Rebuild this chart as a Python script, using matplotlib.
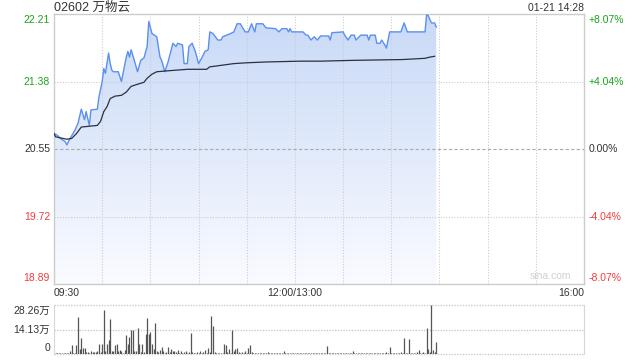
import matplotlib
matplotlib.use("Agg")
import matplotlib.pyplot as plt
from matplotlib.patches import Polygon
import numpy as np

plt.rcParams['font.family'] = ['Liberation Sans', 'Noto Sans CJK SC', 'DejaVu Sans']

# --- data ---
title = "02602 万物云"
stamp = "01-21 14:28"
prev_close = 20.55
price_ticks = [22.21, 21.38, 20.55, 19.72, 18.89]
pct_labels = ["+8.07%", "+4.04%", "0.00%", "-4.04%", "-8.07%"]
vol_ticks = [28.26, 14.13, 0]
vol_labels = ["28.26万", "14.13万", "0"]
time_labels = ["09:30", "12:00/13:00", "16:00"]

# minutes since 09:30 (lunch break skipped) and price
px_min = [0, 2, 4, 7, 8, 10, 13, 15, 17, 19, 20, 22, 23, 27, 28, 30, 31, 32, 34, 35,
          36, 37, 40, 42, 45, 46, 47, 48, 50, 52, 54, 56, 58, 59, 61, 64, 66, 67, 69, 71,
          73, 74, 76, 77, 80, 81, 83, 84, 86, 88, 90, 92, 94, 96, 97, 99, 102, 104, 105, 110,
          112, 114, 116, 119, 121, 123, 125, 126, 130, 132, 138, 140, 142, 145, 146, 147, 148, 155, 157, 158,
          160, 162, 164, 166, 171, 172, 173, 180, 181, 183, 185, 187, 188, 191, 195, 196, 197, 200, 201, 203,
          204, 206, 207, 209, 216, 218, 220, 231, 232, 233, 235, 237, 238]
px_val = [20.74, 20.72, 20.68, 20.64, 20.60, 20.68, 20.78, 20.87, 21.04, 20.91, 21.01, 20.84, 21.03, 21.04, 21.19, 21.38, 21.54, 21.48, 21.73, 21.60,
          21.52, 21.50, 21.50, 21.38, 21.68, 21.75, 21.68, 21.77, 21.64, 21.50, 21.64, 21.67, 21.81, 22.12, 21.97, 21.93, 21.68, 21.64, 21.50, 21.62,
          21.77, 21.85, 21.81, 21.85, 21.83, 21.60, 21.60, 21.81, 21.85, 21.75, 21.60, 21.67, 21.75, 21.77, 21.99, 21.97, 21.89, 21.89, 21.93, 21.97,
          21.99, 22.09, 22.09, 21.99, 21.99, 22.09, 21.99, 22.09, 22.09, 22.04, 22.03, 21.99, 22.03, 22.03, 21.99, 22.03, 21.99, 21.99, 21.95, 21.95,
          21.89, 21.93, 21.89, 21.94, 21.94, 21.89, 21.98, 21.99, 21.95, 21.89, 21.95, 21.95, 21.89, 21.95, 21.95, 21.89, 21.95, 21.95, 21.85, 21.85,
          21.89, 21.83, 21.79, 21.99, 21.99, 22.10, 21.99, 21.99, 22.20, 22.19, 22.10, 22.10, 22.05]

avg_min = [0, 1, 8, 11, 14, 17, 22, 27, 29, 31, 33, 35, 38, 42, 45, 48, 51, 56, 58, 61,
           64, 70, 83, 95, 97, 112, 120, 132, 153, 166, 186, 217, 231, 234, 237]
avg_val = [20.74, 20.70, 20.67, 20.68, 20.74, 20.82, 20.83, 20.84, 20.89, 21.01, 21.07, 21.17, 21.20, 21.21, 21.25, 21.32, 21.34, 21.37, 21.42, 21.47,
           21.50, 21.51, 21.53, 21.53, 21.56, 21.60, 21.61, 21.62, 21.63, 21.63, 21.64, 21.65, 21.665, 21.68, 21.69]

# volume per minute, in 万
volume = [0.5, 0.3, 0.3, 0.4, 0.3, 0.3, 0.4, 0.3, 0.5, 0.6,
          1.5, 5.2, 0.8, 0.6, 5.4, 21.5, 3.0, 9.0, 3.5, 3.5,
          1.2, 1.0, 0.8, 1.5, 0.9, 1.2, 1.0, 1.5, 5.6, 1.0,
          5.6, 25.4, 2.0, 5.5, 8.3, 20.4, 2.0, 1.5, 5.0, 6.0,
          2.0, 2.5, 1.8, 0.8, 2.2, 11.0, 5.5, 10.0, 14.0, 14.0,
          1.5, 2.0, 14.8, 5.5, 1.0, 6.0, 1.0, 11.5, 20.6, 11.5,
          12.5, 6.0, 3.0, 17.7, 2.0, 1.0, 2.5, 4.0, 1.5, 0.8,
          1.0, 4.0, 1.2, 3.0, 1.5, 1.8, 1.0, 2.5, 0.8, 1.5,
          0.6, 1.0, 1.5, 0.8, 1.2, 11.9, 1.2, 0.8, 0.5, 1.0,
          0.6, 1.5, 0.8, 1.0, 2.5, 0.6, 3.5, 1.0, 22.0, 16.0,
          1.0, 0.6, 0.8, 0.5, 0.6, 0.8, 6.0, 5.0, 1.2, 3.0,
          0.8, 14.0, 1.5, 3.0, 3.5, 1.2, 0.6, 1.0, 0.6, 1.5,
          0.5, 3.5, 5.0, 1.0, 0.4, 0.6, 0.4, 0.8, 0.3, 0.5,
          0.6, 0.3, 0.5, 1.0, 0.4, 0.6, 0.3, 0.5, 0.8, 0.4,
          0.3, 0.6, 0.5, 1.5, 0.4, 0.5, 0.8, 0.3, 0.6, 0.4,
          0.5, 0.3, 0.8, 0.5, 0.4, 0.6, 0.3, 0.5, 0.4, 0.3,
          0.6, 0.4, 0.5, 0.3, 0.8, 0.4, 0.5, 0.3, 0.6, 0.4,
          4.5, 0.5, 0.3, 0.6, 0.4, 0.8, 0.5, 0.3, 0.6, 0.4,
          0.5, 0.3, 0.6, 0.4, 0.5, 0.8, 2.0, 0.4, 0.3, 0.5,
          0.4, 0.6, 0.3, 0.5, 0.4, 0.3, 0.6, 0.4, 0.5, 0.3,
          0.6, 0.4, 0.8, 0.5, 0.3, 0.6, 0.4, 1.0, 0.5, 4.2,
          0.5, 0.6, 0.4, 0.8, 0.5, 0.6, 1.0, 0.8, 9.5, 0.6,
          0.8, 8.6, 0.6, 0.5, 0.8, 0.6, 1.0, 2.5, 0.6, 0.8,
          1.0, 0.8, 14.8, 3.0, 1.0, 28.3, 2.5, 1.0, 7.0]

GREEN = '#1aa31a'
RED = '#f03c3c'
DARK = '#333333'
GRID = '#cccccc'

fig = plt.figure(figsize=(6.4, 3.6), dpi=100)
ax = fig.add_axes([54/640, 76/360, 530/640, 270/360])
axv = fig.add_axes([54/640, 6/360, 530/640, 49/360])

ymin, ymax = price_ticks[-1], price_ticks[0]
ax.set_xlim(0, 330)
ax.set_ylim(ymin, ymax)

# gradient fill under the price line
grad = np.linspace(0, 1, 256)[:, None]
top_c = np.array([200, 217, 247]) / 255
bot_c = np.array([250, 251, 255]) / 255
img = top_c * (1 - grad[..., None]) + bot_c * grad[..., None]
im = ax.imshow(img, extent=[0, px_min[-1], ymin, ymax], aspect='auto', origin='upper', zorder=1)
verts = [(px_min[0], ymin)] + list(zip(px_min, px_val)) + [(px_min[-1], ymin)]
poly = Polygon(verts, closed=True, facecolor='none', edgecolor='none')
ax.add_patch(poly)
im.set_clip_path(poly)

ax.plot(px_min, px_val, color='#5b8ff0', lw=1.0, zorder=3)
ax.plot(avg_min, avg_val, color='#2b3040', lw=0.9, zorder=3)

# grid
for x in range(30, 330, 30):
    ax.axvline(x, color=GRID, lw=0.8, ls=(0, (1, 1.5)), zorder=2)
for y in price_ticks[1:-1]:
    if y == prev_close:
        ax.axhline(y, color='#aaaaaa', lw=0.8, ls=(0, (3, 2)), zorder=2)
    else:
        ax.axhline(y, color=GRID, lw=0.8, ls=(0, (1, 1.5)), zorder=2)

ax.set_xticks([])
ax.set_yticks([])
for s in ax.spines.values():
    s.set_color('#cccccc')
    s.set_linewidth(1.0)

# price and percent labels
offs = {0: 6, 4: -6}
for i, (p, lab) in enumerate(zip(price_ticks, pct_labels)):
    c = GREEN if p > prev_close else (RED if p < prev_close else DARK)
    dy = offs.get(i, 0)
    ax.annotate(f"{p:.2f}", xy=(0, p), xycoords=('axes fraction', 'data'), xytext=(-4, -dy),
                textcoords='offset pixels', ha='right', va='center', fontsize=7.5, color=c)
    ax.annotate(lab, xy=(1, p), xycoords=('axes fraction', 'data'), xytext=(5, -dy),
                textcoords='offset pixels', ha='left', va='center', fontsize=7.5, color=c)

fig.text(54/640, 1 - 8/360, title, ha='left', va='center', fontsize=9, color=DARK)
fig.text(584/640, 1 - 8/360, stamp, ha='right', va='center', fontsize=7.5, color=DARK)

ax.annotate(time_labels[0], xy=(0, 0), xycoords='axes fraction', xytext=(0, -9),
            textcoords='offset pixels', ha='left', va='center', fontsize=7.5, color=DARK)
ax.annotate(time_labels[1], xy=(150, 0), xycoords=('data', 'axes fraction'), xytext=(0, -9),
            textcoords='offset pixels', ha='center', va='center', fontsize=7.5, color=DARK)
ax.annotate(time_labels[2], xy=(1, 0), xycoords='axes fraction', xytext=(0, -9),
            textcoords='offset pixels', ha='right', va='center', fontsize=7.5, color=DARK)
ax.text(0.975, 0.012, "sina.com", transform=ax.transAxes, ha='right', va='bottom',
        fontsize=7.5, color='#d0d0d0', zorder=4)

# volume panel
axv.set_xlim(0, 330)
axv.set_ylim(0, vol_ticks[0])
axv.vlines(np.arange(len(volume)), 0, volume, color='#555555', lw=0.9)
for y in vol_ticks:
    axv.axhline(y, color=GRID, lw=1.0, ls=(0, (1, 1)), zorder=0, clip_on=False)
axv.set_xticks([])
axv.set_yticks([])
for k in ('top', 'bottom'):
    axv.spines[k].set_visible(False)
for k in ('left', 'right'):
    axv.spines[k].set_color('#d8d8d8')
voffs = {0: 6, 2: -6}
for i, (v, lab) in enumerate(zip(vol_ticks, vol_labels)):
    axv.annotate(lab, xy=(0, v), xycoords=('axes fraction', 'data'), xytext=(-4, -voffs.get(i, 0)),
                 textcoords='offset pixels', ha='right', va='center', fontsize=7.5, color=DARK)

fig.savefig("out.png", dpi=100)
